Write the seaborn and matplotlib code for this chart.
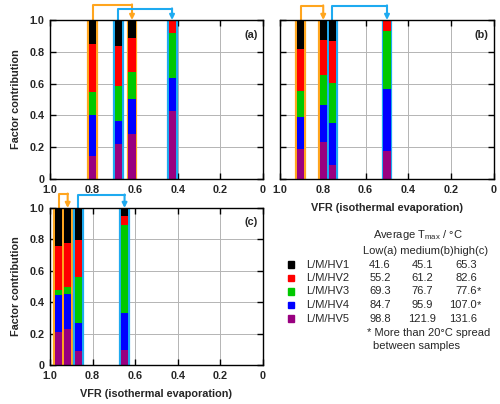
import seaborn as sns
import matplotlib.pyplot as plt
from matplotlib.patches import Rectangle

# VFR positions of the bars in each panel
vfr_a = [0.80, 0.68, 0.615, 0.427]
vfr_b = [0.903, 0.798, 0.756, 0.50]
vfr_c = [0.958, 0.917, 0.868, 0.65]

# factor fractions per bar, bottom (HV5) to top (HV1)
hv5_a = [0.145, 0.22, 0.284, 0.43]
hv4_a = [0.255, 0.146, 0.219, 0.204]
hv3_a = [0.145, 0.221, 0.169, 0.282]
hv2_a = [0.305, 0.249, 0.212, 0.084]
hv1_a = [0.15, 0.164, 0.116, 0.0]

hv5_b = [0.19, 0.23, 0.09, 0.177]
hv4_b = [0.20, 0.235, 0.26, 0.389]
hv3_b = [0.166, 0.19, 0.254, 0.367]
hv2_b = [0.259, 0.219, 0.263, 0.067]
hv1_b = [0.185, 0.126, 0.133, 0.0]

hv5_c = [0.208, 0.229, 0.089, 0.095]
hv4_c = [0.237, 0.226, 0.176, 0.235]
hv3_c = [0.032, 0.039, 0.296, 0.56]
hv2_c = [0.279, 0.286, 0.233, 0.059]
hv1_c = [0.244, 0.22, 0.206, 0.051]

# which bars get an orange or a blue frame, arrows go first -> second
orange_a, blue_a = [0, 2], [1, 3]
orange_b, blue_b = [0, 1], [2, 3]
orange_c, blue_c = [0, 1], [2, 3]

factor_names = ['L/M/HV1', 'L/M/HV2', 'L/M/HV3', 'L/M/HV4', 'L/M/HV5']
tmax_low = ['41.6', '55.2', '69.3', '84.7', '98.8']
tmax_med = ['45.1', '61.2', '76.7', '95.9', '121.9']
tmax_high = ['65.3', '82.6', '77.6', '107.0', '131.6']
high_star = [False, False, True, True, False]

colors = ['#000000', '#ff0000', '#00c800', '#0000ff', '#990080']
c_orange = '#ffa51e'
c_blue = '#1eaaf0'

sns.set_theme(style="ticks")
plt.rcParams['font.family'] = ['Liberation Sans', 'DejaVu Sans']

fig = plt.figure(figsize=(5, 4.04), dpi=100)
W, H = 500.0, 404.0


def add_ax(l, t, r, b):
    return fig.add_axes([l / W, 1 - b / H, (r - l) / W, (b - t) / H])


def draw_panel(ax, vfr, segs, orange, blue, label, arrow_h, show_y, show_xlabel):
    bw = 0.033
    fw = 0.021
    for i, x in enumerate(vfr):
        col = c_orange if i in orange else c_blue
        ax.vlines([x - fw, x + fw], 0, 1, color=col, lw=1.6, zorder=2)
    bottom = [0.0] * len(vfr)
    for seg, col in zip(segs, colors[::-1]):
        ax.bar(vfr, seg, width=bw, bottom=bottom, color=col, lw=0, zorder=3)
        bottom = [b + s for b, s in zip(bottom, seg)]
    trans = ax.get_xaxis_transform()
    for grp, col, h in [(orange, c_orange, arrow_h[0]), (blue, c_blue, arrow_h[1])]:
        x1, x2 = vfr[grp[0]], vfr[grp[1]]
        ax.plot([x1, x1, x2], [1.0, h, h], color=col, lw=1.5, transform=trans,
                clip_on=False, zorder=5)
        ax.annotate('', xy=(x2, 1.0), xytext=(x2, h + 0.004), xycoords=trans,
                    textcoords=trans, annotation_clip=False,
                    arrowprops=dict(arrowstyle='-|>', color=col, lw=1.5,
                                    mutation_scale=7, shrinkA=0, shrinkB=0))
    ax.set_xlim(1.0, 0.0)
    ax.set_ylim(0, 1)
    ax.set_xticks([1.0, 0.8, 0.6, 0.4, 0.2, 0.0])
    ax.set_xticklabels(['1.0', '0.8', '0.6', '0.4', '0.2', '0'])
    ax.set_yticks([0, 0.2, 0.4, 0.6, 0.8, 1.0])
    ax.set_yticklabels(['0', '0.2', '0.4', '0.6', '0.8', '1.0'] if show_y else [])
    ax.grid(True, color='#b4b4b4', lw=0.7, zorder=0)
    ax.tick_params(direction='in', top=True, right=True, length=4, width=1,
                   color='black', labelsize=7.8, pad=4)
    for t in ax.get_xticklabels() + ax.get_yticklabels():
        t.set_fontweight('bold')
    for s in ax.spines.values():
        s.set_color('black')
        s.set_linewidth(1.0)
        s.set_zorder(6)
    if show_y:
        ax.set_ylabel('Factor contribution', fontsize=7.8, fontweight='bold', labelpad=6)
    if show_xlabel:
        ax.set_xlabel('VFR (isothermal evaporation)', fontsize=7.8, fontweight='bold',
                      labelpad=6)
    ax.text(0.975, 0.94, label, transform=ax.transAxes, ha='right', va='top',
            fontsize=7.8, fontweight='bold')


ax_a = add_ax(50, 20, 263, 179)
ax_b = add_ax(280, 20, 494, 179)
ax_c = add_ax(50, 208, 263, 365)

draw_panel(ax_a, vfr_a, [hv5_a, hv4_a, hv3_a, hv2_a, hv1_a], orange_a, blue_a,
           '(a)', (1.094, 1.069), True, False)
draw_panel(ax_b, vfr_b, [hv5_b, hv4_b, hv3_b, hv2_b, hv1_b], orange_b, blue_b,
           '(b)', (1.088, 1.088), False, True)
draw_panel(ax_c, vfr_c, [hv5_c, hv4_c, hv3_c, hv2_c, hv1_c], orange_c, blue_c,
           '(c)', (1.088, 1.082), True, True)

# legend / table in pixel positions
fs = 8.0


def ftext(x, y, s, **kw):
    fig.text(x / W, 1 - y / H, s, fontsize=fs, va='center', **kw)


ftext(418, 235, r'Average T$_{\mathregular{max}}$ / °C', ha='center')
ftext(363, 251, 'Low(a) medium(b)high(c)', ha='left')
for i in range(5):
    y = 264.5 + 13.5 * i
    fig.patches.append(Rectangle(((287.5) / W, 1 - (y + 3.2) / H), 6.5 / W, 6.5 / H,
                                 transform=fig.transFigure, color=colors[i]))
    ftext(306, y, factor_names[i], ha='left')
    ftext(380, y, tmax_low[i], ha='center')
    ftext(422, y, tmax_med[i], ha='center')
    ftext(477, y, tmax_high[i], ha='right')
    if high_star[i]:
        ftext(477, y, '*', ha='left')
ftext(367, 333, '* More than 20°C spread', ha='left')
ftext(373, 346, 'between samples', ha='left')

fig.savefig('out.png', dpi=100)
